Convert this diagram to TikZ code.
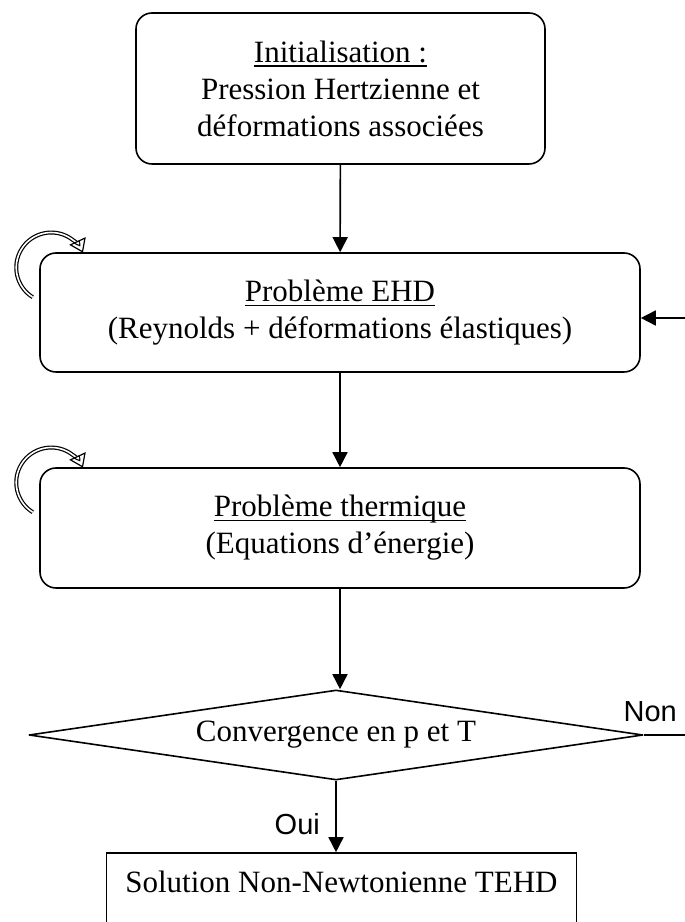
\documentclass[tikz,border=0pt]{standalone}
\usepackage{fontspec}
\setmainfont{Liberation Serif}
\newfontfamily\sansfont{Liberation Sans}
\usetikzlibrary{shapes.geometric,arrows.meta}
\newsavebox{\soulbox}
\newcommand{\souligne}[1]{\sbox{\soulbox}{#1}\rlap{\rule[-4.5pt]{\wd\soulbox}{1.3pt}}\usebox{\soulbox}}

\begin{document}
\begin{tikzpicture}[x=1pt,y=1pt]
    \tikzset{
    tehd node/.style={draw,rounded corners=16pt,line width=1.6pt,align=center,font=\fontsize{31}{37}\selectfont},
    tehd conv/.style={draw,diamond,line width=1.6pt,line join=round,inner sep=0,aspect=6.8,minimum width=614pt,minimum height=90pt,font=\fontsize{31}{37}\selectfont},
    tehd edge/.style={line width=1.6pt,-{Triangle[length=15pt,width=15pt]}},
    tehd loop/.style={double,double distance=1.6pt,line width=1.2pt,-{Triangle[open,length=13pt,width=18pt]}},
    tehd label/.style={font=\sansfont\fontsize{29}{36}\selectfont}
    }
    \useasboundingbox (0,0) rectangle (685,922);
    \clip (0,0) rectangle (685,922);

    \node[tehd node,minimum width=409pt,minimum height=151pt] (init) at (340.5,833.5) {\souligne{Initialisation :}\\Pression Hertzienne et\\déformations associées};
    \node[tehd node,minimum width=600pt,minimum height=119pt] (ehd) at (340,609.5) {\souligne{Problème EHD}\\(Reynolds + déformations élastiques)};
    \node[tehd node,minimum width=600pt,minimum height=120pt] (therm) at (340,394) {\souligne{Problème thermique}\\(Equations d’énergie)};
    \node[tehd conv] (conv) at (336,187) {Convergence en p et T};
    \node[draw,line width=1.6pt,minimum width=470pt,minimum height=138pt,
          label={[anchor=base,yshift=-40pt,font=\fontsize{31}{37}\selectfont]north:Solution Non-Newtonienne TEHD}] (sol) at (341.5,0) {};
    \coordinate (retour) at (685,604);
    \coordinate (nonfin) at (685,187);

    \path[tehd edge]
    (init) edge (ehd)
    (ehd) edge (therm)
    (therm.south) edge (therm.south |- conv.north)
    (conv.south) edge node[tehd label,pos=0.6,left=12pt] {Oui} (conv.south |- sol.north)
    (retour) edge (retour -| ehd.east)
    ;
    \draw[line width=1.6pt] (conv.east) -- (nonfin) node[tehd label,pos=1,anchor=base east,xshift=-4pt,yshift=13pt] {Non};

    \draw[tehd loop] ([shift={(-6.5,-45)}]ehd.north west) arc[start angle=238,end angle=25,radius=35];
    \draw[tehd loop] ([shift={(-6.5,-45)}]therm.north west) arc[start angle=238,end angle=25,radius=35];
\end{tikzpicture}
\end{document}
